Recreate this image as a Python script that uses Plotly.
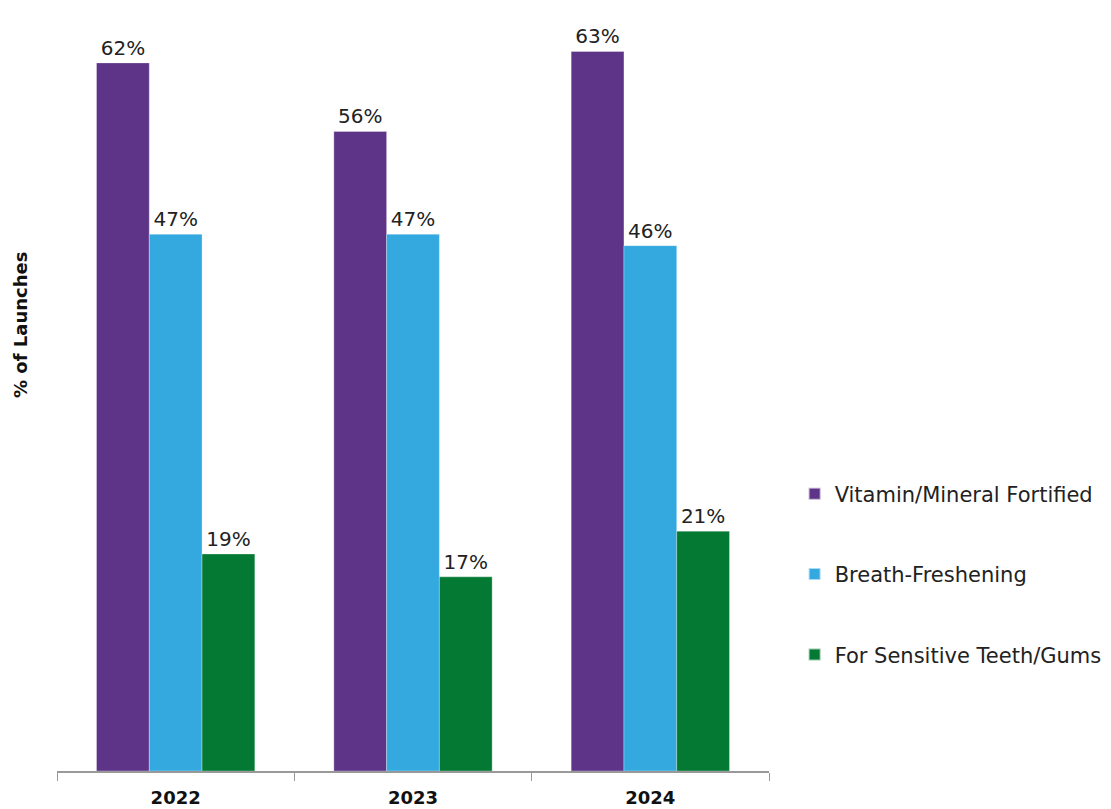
import plotly.graph_objects as go

years = ["2022", "2023", "2024"]
series_names = ["Vitamin/Mineral Fortified", "Breath-Freshening", "For Sensitive Teeth/Gums"]
vitamin = [62, 56, 63]
breath = [47, 47, 46]
sensitive = [19, 17, 21]
colors = ["#5E3488", "#33A9DF", "#047934"]

FONT = "DejaVu Sans"

fig = go.Figure()
for i, (name, vals, col) in enumerate(zip(series_names, [vitamin, breath, sensitive], colors)):
    fig.add_trace(go.Bar(
        x=years, y=vals, name=name,
        marker=dict(color=col, line=dict(color="rgba(255,255,255,0.6)", width=0.5)),
        text=[f"{v}%" for v in vals], textposition="outside",
        textfont=dict(size=20, color="#222222", family=FONT),
        cliponaxis=False, legendgroup=f"g{i}",
    ))

fig.update_layout(
    width=1111, height=809,
    margin=dict(l=57, r=342, t=5, b=38, autoexpand=False),
    paper_bgcolor="white", plot_bgcolor="white",
    barmode="group", bargap=0.333, bargroupgap=0,
    font=dict(family=FONT, size=18, color="#111111"),
    showlegend=True,
    legend=dict(
        x=1.036, xanchor="left", y=0.257, yanchor="middle",
        font=dict(size=21, color="#222222", family=FONT),
        tracegroupgap=50, itemsizing="constant", itemwidth=30,
    ),
    xaxis=dict(
        showline=True, linecolor="#999999", linewidth=1.5,
        ticks="outside", tickson="boundaries", ticklen=8, tickcolor="#999999",
        tickfont=dict(size=18, color="#111111", family=FONT, weight="bold"),
        ticklabelstandoff=10,
        showgrid=False,
    ),
    yaxis=dict(
        range=[0, 67.07], showticklabels=False, showgrid=False,
        showline=False, zeroline=False, ticks="",
    ),
    annotations=[dict(
        text="<b>% of Launches</b>", textangle=-90,
        xref="paper", yref="paper", x=-37/712, y=(771-325)/766,
        xanchor="center", yanchor="middle", showarrow=False,
        font=dict(size=18, color="#111111", family=FONT),
    )],
)

fig.write_html("out.html")
